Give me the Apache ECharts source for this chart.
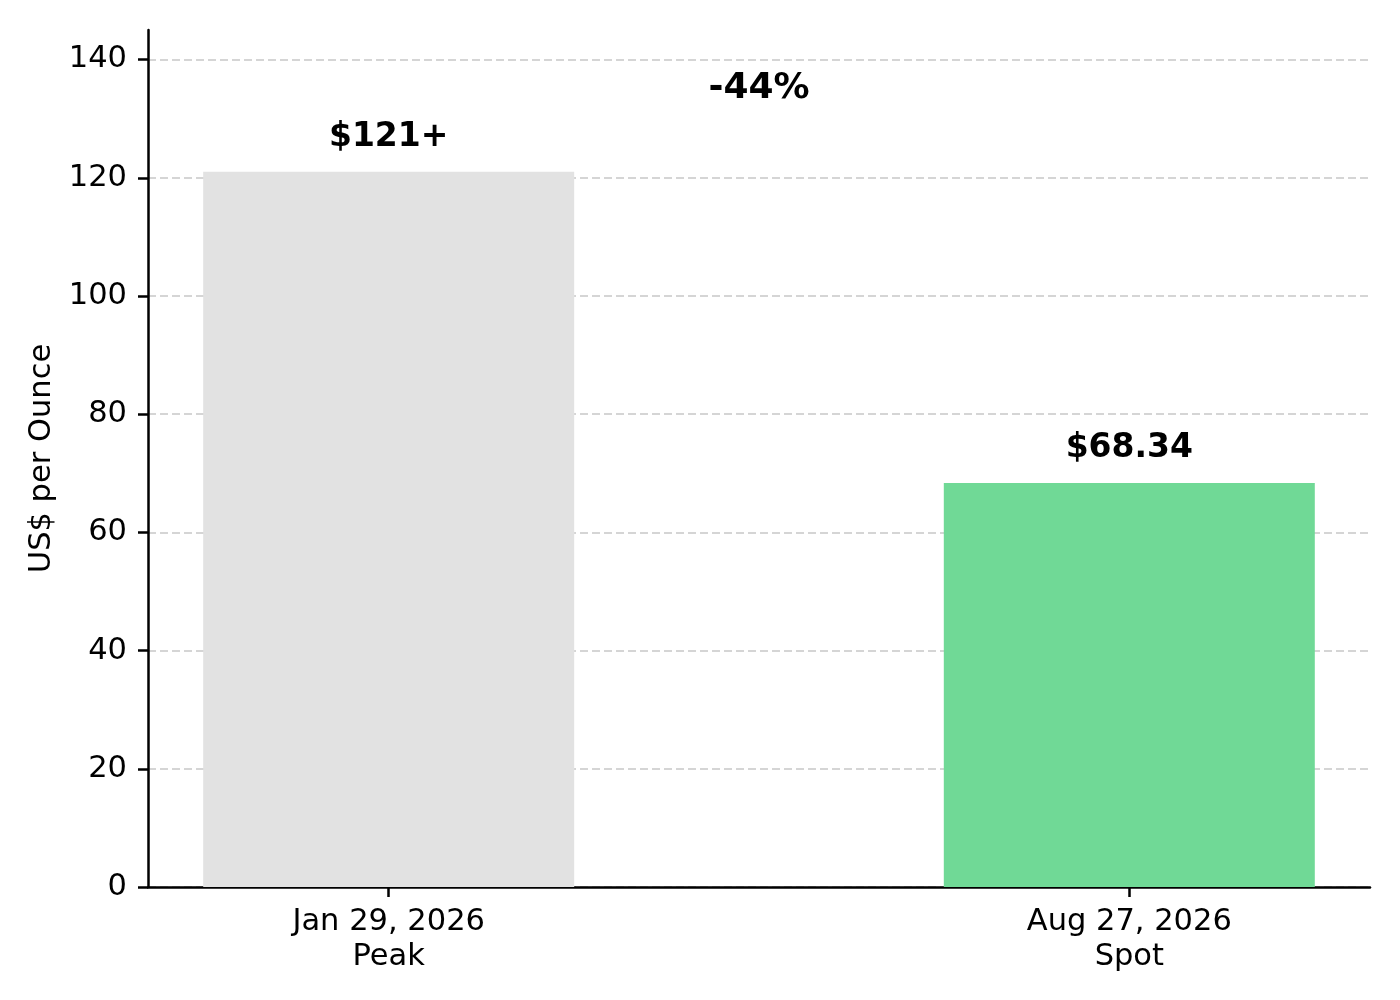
<!DOCTYPE html>
<html>
<head>
<meta charset="utf-8">
<script src="https://cdn.jsdelivr.net/npm/echarts@6/dist/echarts.min.js"></script>
<style>
    html, body { margin: 0; padding: 0; background: #fff; }
    #chart { width: 1400px; height: 1000px; }
</style>
</head>
<body>
<div id="chart"></div>
<script>
// data
var categories = ['Jan 29, 2026\nPeak', 'Aug 27, 2026\nSpot'];
var positions = [0, 1];
var prices = [121, 68.34];
var priceLabels = ['$121+', '$68.34'];
var barColors = ['#e2e2e2', '#70d996'];
var yTicks = [0, 20, 40, 60, 80, 100, 120, 140];
var changeText = '-44%';
var changePoint = [0.5, 135];

var FONT = 'DejaVu Sans';

function buildBars() {
    var arr = [];
    for (var i = 0; i < prices.length; i++) {
        arr.push({
            value: [positions[i], prices[i]],
            itemStyle: { color: barColors[i] },
            label: { formatter: priceLabels[i] }
        });
    }
    return arr;
}

var option = {
    animation: false,
    backgroundColor: '#fff',
    grid: { left: 148, right: 30, top: 30, bottom: 113 },
    xAxis: {
        type: 'value',
        min: -0.325,
        max: 1.325,
        axisLine: { show: true, onZero: false, lineStyle: { color: '#000', width: 2.5 } },
        axisTick: { show: true, length: 10, lineStyle: { color: '#000', width: 2.5 }, customValues: positions },
        axisLabel: {
            customValues: positions,
            fontFamily: FONT,
            fontSize: 30.5,
            lineHeight: 35,
            color: '#000',
            margin: 18,
            formatter: function (v) {
                var idx = positions.indexOf(Math.round(v));
                return idx >= 0 ? categories[idx] : '';
            }
        },
        splitLine: { show: false }
    },
    yAxis: {
        type: 'value',
        min: 0,
        max: 145,
        name: 'US$ per Ounce',
        nameLocation: 'middle',
        nameGap: 85,
        nameTextStyle: { fontFamily: FONT, fontSize: 30.5, color: '#000' },
        axisLine: { show: true, onZero: false, lineStyle: { color: '#000', width: 2.5 } },
        axisTick: { show: true, length: 10, lineStyle: { color: '#000', width: 2.5 }, customValues: yTicks },
        axisLabel: { customValues: yTicks, fontFamily: FONT, fontSize: 30.5, color: '#000', margin: 21, padding: [6, 0, 0, 0] },
        splitLine: { show: true, lineStyle: { color: '#c8c8c8', width: 1.5, type: [8, 4] } }
    },
    series: [{
        type: 'bar',
        barWidth: 371,
        data: buildBars(),
        label: {
            show: true,
            position: 'top',
            distance: 18,
            fontFamily: FONT,
            fontSize: 33,
            fontWeight: 'bold',
            color: '#000'
        }
    }, {
        type: 'scatter',
        symbolSize: 1,
        itemStyle: { color: 'rgba(0,0,0,0)', opacity: 1 },
        data: [changePoint],
        label: {
            show: true,
            position: 'inside',
            formatter: changeText,
            fontFamily: FONT,
            fontSize: 36,
            fontWeight: 'bold',
            color: '#000'
        }
    }]
};

var echart = echarts.init(document.getElementById('chart'));
echart.setOption(option, true);
</script>
</body>
</html>
